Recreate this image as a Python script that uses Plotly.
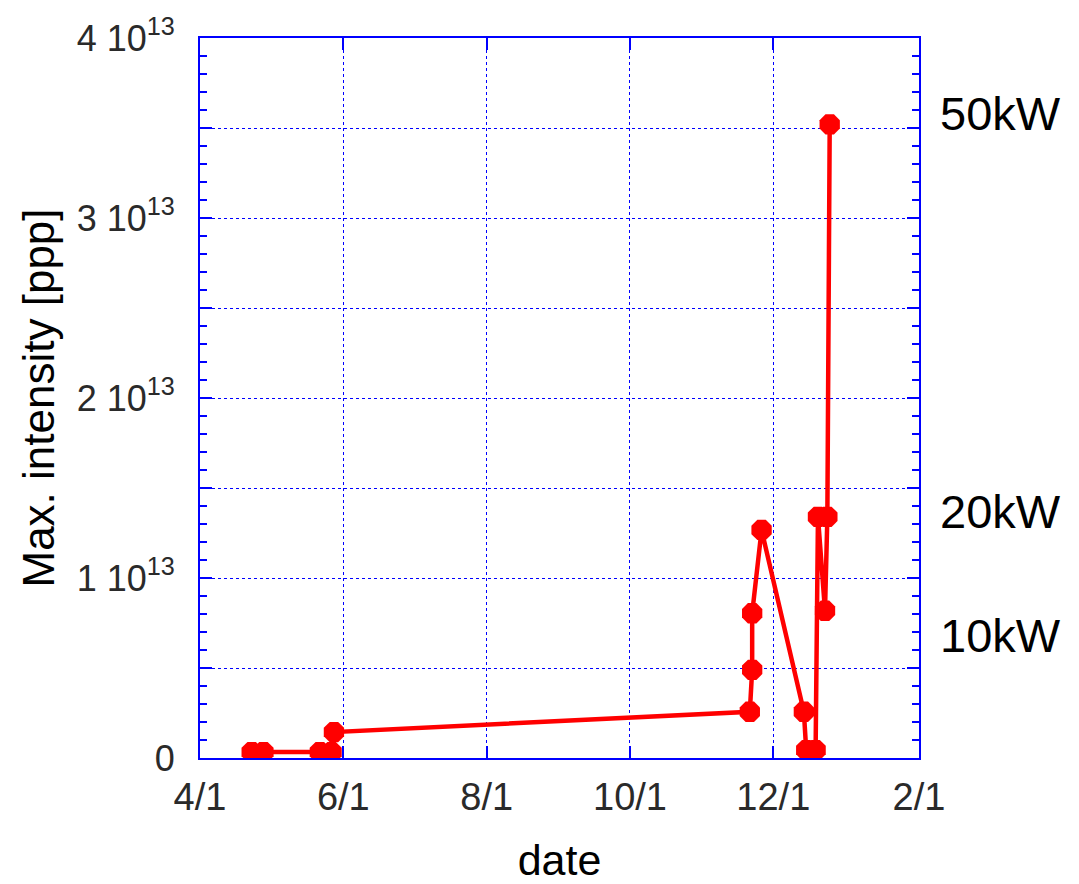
import plotly.graph_objects as go

# Data
dates = [
    "2008-04-23", "2008-04-28", "2008-05-22", "2008-05-27", "2008-05-28",
    "2008-11-21", "2008-11-22", "2008-11-22", "2008-11-26",
    "2008-12-14", "2008-12-15", "2008-12-19", "2008-12-20",
    "2008-12-23", "2008-12-24", "2008-12-25",
]
intensity = [
    0.033e13, 0.033e13, 0.033e13, 0.033e13, 0.144e13,
    0.257e13, 0.49e13, 0.804e13, 1.267e13,
    0.257e13, 0.044e13, 0.044e13, 1.34e13,
    0.818e13, 1.34e13, 3.52e13,
]

x_tick_vals = ["2008-04-01", "2008-06-01", "2008-08-01", "2008-10-01", "2008-12-01", "2009-02-01"]
x_tick_text = ["4/1", "6/1", "8/1", "10/1", "12/1", "2/1"]

y_tick_vals = [0, 0.5e13, 1e13, 1.5e13, 2e13, 2.5e13, 3e13, 3.5e13, 4e13]
y_tick_text = ["0", "", "1 10<sup>13</sup>", "", "2 10<sup>13</sup>", "",
               "3 10<sup>13</sup>", "", "4 10<sup>13</sup>"]

power_labels = ["50kW", "20kW", "10kW"]
power_label_y = [3.58e13, 1.37e13, 0.68e13]

blue = "#0000ff"
red = "#ff0000"
font_family = "Liberation Sans, Arial, sans-serif"
tick_color = "#2a2a2a"

fig = go.Figure()
fig.add_trace(go.Scatter(
    x=dates, y=intensity, mode="lines+markers",
    line=dict(color=red, width=4.5),
    marker=dict(color=red, size=22, symbol="octagon"),
    showlegend=False,
))

for txt, yv in zip(power_labels, power_label_y):
    fig.add_annotation(
        x=1.027, xref="paper", y=yv, yref="y", text=txt, showarrow=False,
        xanchor="left", yanchor="middle",
        font=dict(family=font_family, size=47, color="#000000"),
    )

fig.update_layout(
    width=1079, height=884,
    margin=dict(l=200, r=160, t=38, b=126),
    paper_bgcolor="white", plot_bgcolor="white",
    font=dict(family=font_family, color=tick_color),
)

fig.update_xaxes(
    type="date",
    range=["2008-04-01", "2009-02-01"],
    tickmode="array", tickvals=x_tick_vals, ticktext=x_tick_text,
    ticks="inside", ticklen=12, tickwidth=2, tickcolor=blue,
    showline=True, linecolor=blue, linewidth=2, mirror="ticks",
    showgrid=True, gridcolor=blue, gridwidth=1, griddash="dot",
    zeroline=False, automargin=False,
    ticklabelstandoff=4,
    tickfont=dict(family=font_family, size=38, color=tick_color),
    title=dict(text="date", font=dict(family=font_family, size=43, color="#000000"), standoff=34),
)

fig.update_yaxes(
    range=[0, 4e13],
    tickmode="array", tickvals=y_tick_vals, ticktext=y_tick_text,
    ticks="inside", ticklen=12, tickwidth=2, tickcolor=blue,
    minor=dict(dtick=0.1e13, tick0=0, ticks="inside", ticklen=7, tickwidth=2, tickcolor=blue, showgrid=False),
    showline=True, linecolor=blue, linewidth=2, mirror="ticks",
    showgrid=True, gridcolor=blue, gridwidth=1, griddash="dot",
    zeroline=False, automargin=False,
    ticklabelstandoff=16,
    tickfont=dict(family=font_family, size=36, color=tick_color),
    title=dict(text="Max. intensity [ppp]", font=dict(family=font_family, size=44, color="#000000"), standoff=8),
)

fig.write_html("out.html")
